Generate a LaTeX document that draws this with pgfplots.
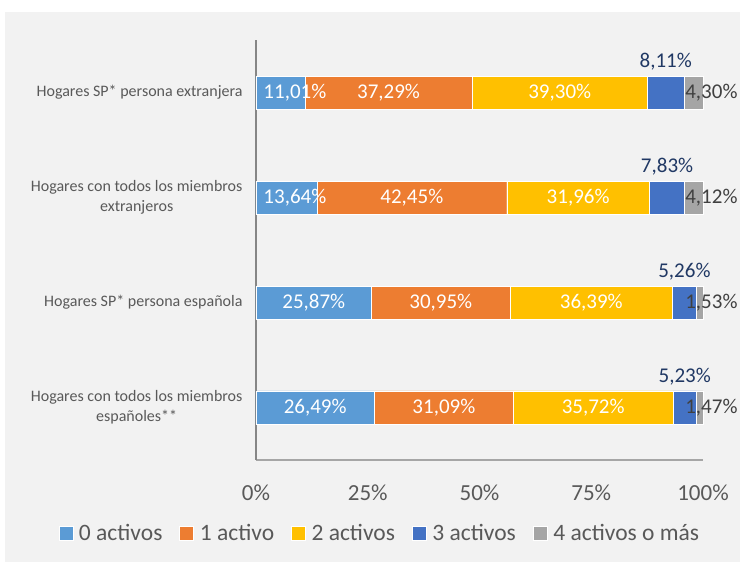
\documentclass[border=0pt]{standalone}
\usepackage{pgfplots}
\pgfplotsset{compat=1.18}
\usepackage{fontspec}
\setmainfont{Carlito}
\definecolor{panel}{HTML}{F2F2F2}
\definecolor{txt}{HTML}{595959}
\definecolor{axl}{HTML}{868686}
\definecolor{axb}{HTML}{A6A6A6}
\definecolor{s0}{HTML}{5B9BD5}
\definecolor{s1}{HTML}{ED7D31}
\definecolor{s2}{HTML}{FFC000}
\definecolor{s3}{HTML}{4472C4}
\definecolor{s4}{HTML}{A5A5A5}
\definecolor{navy}{HTML}{203864}
\definecolor{dk}{HTML}{404040}
\tikzset{
  lbl/.style={font=\fontsize{21}{24}\selectfont, text=white, inner sep=0pt},
  lblup/.style={font=\fontsize{21}{24}\selectfont, text=navy, inner sep=0pt, yshift=31pt},
  lblend/.style={font=\fontsize{21}{24}\selectfont, text=dk, inner sep=0pt, anchor=west},
}
\pgfplotsset{
  frame/.style={at={(256pt,103pt)}, anchor=south west,
    width=447pt, height=420pt, scale only axis,
    xmin=0, xmax=100, ymin=-0.5, ymax=3.5, clip=false},
}
\begin{document}
\begin{tikzpicture}[x=1pt,y=1pt]
\fill[white] (0,0) rectangle (740,563);
\fill[panel] (5,1) rectangle (740,551);
\begin{axis}[
  frame,
  xbar stacked, bar width=33pt,
  axis x line=bottom, axis y line=left,
  x axis line style={-, draw=axb, line width=1.2pt},
  y axis line style={-, draw=axl, line width=1.2pt},
  major tick length=0pt,
  xtick={0,25,50,75,100},
  xticklabels={0\%,25\%,50\%,75\%,100\%},
  xticklabel style={font=\fontsize{23}{26}\selectfont, text=txt, yshift=-21pt},
  ytick={0,1,2,3},
  yticklabels={{Hogares con todos los miembros\\españoles**},
    {Hogares SP* persona española},
    {Hogares con todos los miembros\\extranjeros},
    {Hogares SP* persona extranjera}},
  yticklabel style={font=\fontsize{16}{20}\selectfont, text=txt, align=center, xshift=-10pt},
  legend columns=5,
  legend style={at={(0.277,-0.174)}, anchor=center, draw=none, fill=none,
    font=\fontsize{23.5}{26}\selectfont, text=txt,
    /tikz/every odd column/.append style={column sep=4pt},
    /tikz/every even column/.append style={column sep=15pt}},
  legend image code/.code={\fill[#1] (0pt,-7pt) rectangle (14pt,7pt);},
]
\addplot[fill=s0, draw=white, line width=0.4pt] coordinates {(26.49,0) (25.87,1) (13.64,2) (11.01,3)};
\addlegendentry{0 activos}
\addplot[fill=s1, draw=white, line width=0.4pt] coordinates {(31.09,0) (30.95,1) (42.45,2) (37.29,3)};
\addlegendentry{1 activo}
\addplot[fill=s2, draw=white, line width=0.4pt] coordinates {(35.72,0) (36.39,1) (31.96,2) (39.30,3)};
\addlegendentry{2 activos}
\addplot[fill=s3, draw=white, line width=0.4pt] coordinates {(5.23,0) (5.26,1) (7.83,2) (8.11,3)};
\addlegendentry{3 activos}
\addplot[fill=s4, draw=white, line width=0.4pt] coordinates {(1.47,0) (1.53,1) (4.12,2) (4.30,3)};
\addlegendentry{4 activos o más}
\end{axis}
% etiquetas de datos en un segundo eje, encima de las barras
\begin{axis}[frame, hide axis]
\node[lbl] at (axis cs:8.7,3) {11,01\%};
\node[lbl] at (axis cs:29.655,3) {37,29\%};
\node[lbl] at (axis cs:67.95,3) {39,30\%};
\node[lblup] at (axis cs:91.655,3) {8,11\%};
\node[lblend] at (axis cs:96,3) {4,30\%};
\node[lbl] at (axis cs:8.7,2) {13,64\%};
\node[lbl] at (axis cs:34.865,2) {42,45\%};
\node[lbl] at (axis cs:72.07,2) {31,96\%};
\node[lblup] at (axis cs:91.965,2) {7,83\%};
\node[lblend] at (axis cs:96,2) {4,12\%};
\node[lbl] at (axis cs:12.935,1) {25,87\%};
\node[lbl] at (axis cs:41.345,1) {30,95\%};
\node[lbl] at (axis cs:75.015,1) {36,39\%};
\node[lblup] at (axis cs:95.84,1) {5,26\%};
\node[lblend] at (axis cs:96,1) {1,53\%};
\node[lbl] at (axis cs:13.245,0) {26,49\%};
\node[lbl] at (axis cs:42.035,0) {31,09\%};
\node[lbl] at (axis cs:75.44,0) {35,72\%};
\node[lblup] at (axis cs:95.915,0) {5,23\%};
\node[lblend] at (axis cs:96,0) {1,47\%};
\end{axis}
\end{tikzpicture}
\end{document}
